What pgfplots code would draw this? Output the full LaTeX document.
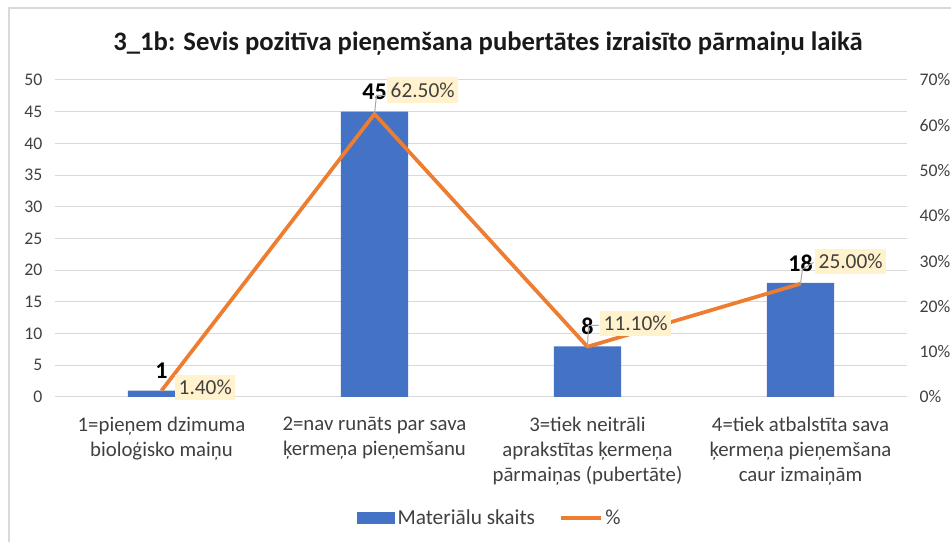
\documentclass[border=0pt]{standalone}
\usepackage{pgfplots}
\pgfplotsset{compat=1.18}
\usepackage{pgfplotstable}
\usepackage{fontspec}
\setmainfont{Carlito}
\definecolor{barblue}{HTML}{4472C4}
\definecolor{lineorange}{HTML}{ED7D31}
\definecolor{gridgray}{HTML}{D9D9D9}
\definecolor{labgray}{HTML}{404040}
\definecolor{boxfill}{HTML}{FFF2CC}
\definecolor{leadgray}{HTML}{A6A6A6}

\pgfplotstableread{
x cnt dx dy
0 1 0 15
1 45 0 15
2 8 0 15
3 18 0 15
}\bartable

\pgfplotstableread{
x pct lab dx dy
0 0.014 1.40 9 2.25
1 0.625 62.50 8.25 18
2 0.111 11.10 8.25 17.25
3 0.250 25.00 9.75 16.5
}\pcttable

\begin{document}
\begin{tikzpicture}
\path[use as bounding box] (0,0) rectangle (713.25pt,406.5pt);
\draw[gridgray, line width=1.2pt] (6.75pt,-5pt) -- (6.75pt,400.5pt) -- (720pt,400.5pt);
\node[font=\fontsize{20}{24}\selectfont\bfseries, text=black!90] at (366pt,373.5pt)
  {3\_1b: Sevis pozitīva pieņemšana pubertātes izraisīto pārmaiņu laikā};

\begin{axis}[
  at={(41.25pt,108.75pt)}, anchor=south west,
  width=639pt, height=237.75pt, scale only axis,
  xmin=-0.5, xmax=3.5, ymin=0, ymax=50,
  xtick={0,1,2,3},
  xticklabels={{1=pieņem dzimuma\\bioloģisko maiņu},
               {2=nav runāts par sava\\ķermeņa pieņemšanu},
               {3=tiek neitrāli\\aprakstītas ķermeņa\\pārmaiņas (pubertāte)},
               {4=tiek atbalstīta sava\\ķermeņa pieņemšana\\caur izmaiņām}},
  xticklabel style={align=center, font=\fontsize{15.6}{18.7}\selectfont, text=labgray, yshift=-11.5pt},
  ytick={0,5,...,50},
  yticklabel style={font=\fontsize{13.3}{16}\selectfont, text=labgray, xshift=-6pt},
  ymajorgrids, grid style={gridgray, line width=0.75pt},
  axis line style={draw=none},
  major tick length=0pt, tick style={draw=none},
  /pgf/number format/assume math mode=true,
  clip=false,
]
\addplot[ybar, bar width=0.315, fill=barblue, draw=none,
  nodes near coords, point meta=explicit,
  visualization depends on={\thisrow{dx} \as \dx},
  visualization depends on={\thisrow{dy} \as \dy},
  every node near coord/.append style={anchor=center, xshift=\dx pt, yshift=\dy pt,
    font=\fontsize{18}{20}\selectfont\bfseries, text=black,
    /pgf/number format/assume math mode=true}]
  table[x=x, y=cnt, meta=cnt]{\bartable};
\end{axis}

\begin{axis}[
  at={(41.25pt,108.75pt)}, anchor=south west,
  width=639pt, height=237.75pt, scale only axis,
  xmin=-0.5, xmax=3.5, ymin=0, ymax=0.7,
  hide x axis,
  axis y line*=right, y axis line style={draw=none},
  ytick={0,0.1,0.2,0.3,0.4,0.5,0.6,0.7},
  yticklabels={0\%,10\%,20\%,30\%,40\%,50\%,60\%,70\%},
  yticklabel style={font=\fontsize{13.3}{16}\selectfont, text=labgray, xshift=6pt},
  major tick length=0pt, tick style={draw=none},
  clip=false,
  legend style={at={(0.511,-0.382)}, anchor=center, draw=none, fill=none,
    legend columns=2, font=\fontsize{16}{18}\selectfont, text=labgray,
    /tikz/every even column/.append style={column sep=16pt}},
]
\addlegendimage{legend image code/.code={\fill[barblue] (0pt,-4pt) rectangle (27.75pt,4pt);}}
\addlegendentry{Materiālu skaits}
\addplot[lineorange, line width=2.8pt, line join=round, mark=none,
  legend image code/.code={\draw[lineorange, line width=2.8pt] (0pt,0pt) -- (30pt,0pt);},
  nodes near coords={\pgfplotspointmeta\%}, point meta=explicit symbolic,
  visualization depends on={\thisrow{dx} \as \dx},
  visualization depends on={\thisrow{dy} \as \dy},
  every node near coord/.append style={anchor=west, xshift=\dx pt, yshift=\dy pt,
    fill=boxfill, inner xsep=2.5pt, inner ysep=4pt, text=labgray,
    font=\fontsize{16}{18}\selectfont}]
  table[x=x, y=pct, meta=lab]{\pcttable};
\addlegendentry{\%}
\draw[leadgray, line width=0.75pt] (axis cs:1,0.625) -- ++(1.5pt,14pt) -- ++(6.75pt,0pt);
\draw[leadgray, line width=0.75pt] (axis cs:2,0.111) -- ++(0.75pt,16pt) -- ++(7.5pt,0pt);
\draw[leadgray, line width=0.75pt] (axis cs:3,0.250) -- ++(1.5pt,11pt) -- ++(8.25pt,5pt);
\end{axis}
\end{tikzpicture}
\end{document}
